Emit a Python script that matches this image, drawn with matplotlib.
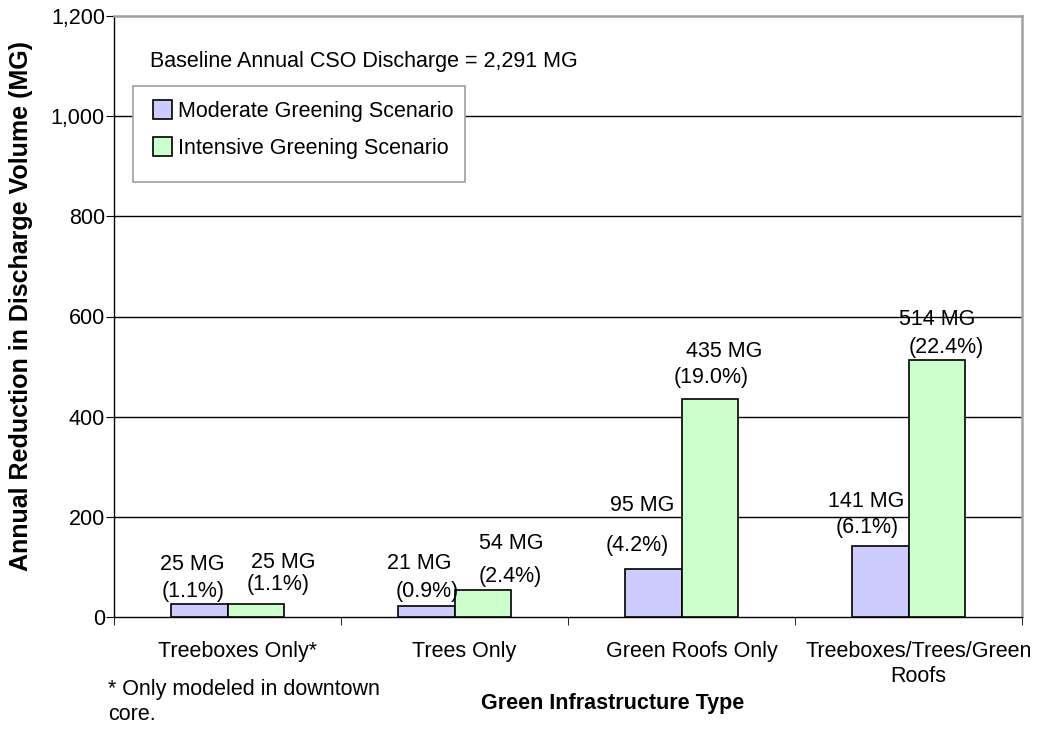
import matplotlib
matplotlib.use("Agg")
import matplotlib.pyplot as plt
import matplotlib.transforms as mtransforms
from matplotlib.patches import Rectangle, Patch
import numpy as np

plt.rcParams['font.family'] = ['Liberation Sans', 'DejaVu Sans']

categories = ["Treeboxes Only*", "Trees Only", "Green Roofs Only", "Treeboxes/Trees/Green\nRoofs"]
moderate = [25, 21, 95, 141]
intensive = [25, 54, 435, 514]
moderate_pct = ["1.1%", "0.9%", "4.2%", "6.1%"]
intensive_pct = ["1.1%", "2.4%", "19.0%", "22.4%"]
series_names = ["Moderate Greening Scenario", "Intensive Greening Scenario"]
baseline_text = "Baseline Annual CSO Discharge = 2,291 MG"
yticks = [0, 200, 400, 600, 800, 1000, 1200]

# label offsets in pixels (dx, dy) relative to bar top-center: (line1, line2)
mod_offsets = [((-7, 40), (-6, 13)), ((-7, 43), (1, 15)), ((-11, 64), (-16, 24)), ((-14, 45), (-13, 19))]
int_offsets = [((27, 42), (22, 20)), ((28, 46), (27, 13)), ((14, 48), (1, 22)), ((0, 40), (9, 12))]

W, H = 1048, 729
fig = plt.figure(figsize=(W / 100, H / 100), dpi=100)
L, R, T, B = 114, 1022, 16, 617
ax = fig.add_axes([L / W, 1 - B / H, (R - L) / W, (B - T) / H])

FS = 15.5
col_mod = "#CCCCFF"
col_int = "#CCFFCC"
x = np.arange(len(categories))
bw = 0.25
ax.bar(x - bw / 2, moderate, bw, color=col_mod, edgecolor="black", linewidth=1.2, zorder=3)
ax.bar(x + bw / 2, intensive, bw, color=col_int, edgecolor="black", linewidth=1.2, zorder=3)

ax.set_xlim(-0.5, 3.5)
ax.set_ylim(0, 1200)
ax.set_yticks(yticks)
ax.set_yticklabels([f"{v:,}" for v in yticks], fontsize=FS)
for v in yticks[1:-1]:
    ax.axhline(v, color="black", lw=1.0, zorder=1)

ax.set_xticks(x)
ax.set_xticklabels(categories, fontsize=FS, linespacing=1.25)
ax.set_xticks(np.arange(-0.5, 3.6, 1.0), minor=True)
ax.tick_params(axis="x", which="major", length=0, pad=17)
ax.tick_params(axis="x", which="minor", length=6, direction="out", color="black")
ax.tick_params(axis="y", length=6, direction="out", pad=0.5, color="black")

offset = mtransforms.ScaledTranslation(10 / 100, 0, fig.dpi_scale_trans)
for lab in ax.get_xticklabels():
    lab.set_transform(lab.get_transform() + offset)

for s in ["left", "bottom"]:
    ax.spines[s].set_color("black")
    ax.spines[s].set_linewidth(1.0)
for s in ["top", "right"]:
    ax.spines[s].set_color("#a0a0a0")
    ax.spines[s].set_linewidth(1.8)

def px2pt(p):
    return p * 0.72

for i in range(len(categories)):
    for xv, val, pct, offs in [(x[i] - bw / 2, moderate[i], moderate_pct[i], mod_offsets[i]),
                               (x[i] + bw / 2, intensive[i], intensive_pct[i], int_offsets[i])]:
        (dx1, dy1), (dx2, dy2) = offs
        ax.annotate(f"{val} MG", xy=(xv, val), xytext=(px2pt(dx1), px2pt(dy1)),
                    textcoords="offset points", ha="center", va="center", fontsize=FS, zorder=5)
        ax.annotate(f"({pct})", xy=(xv, val), xytext=(px2pt(dx2), px2pt(dy2)),
                    textcoords="offset points", ha="center", va="center", fontsize=FS, zorder=5)

ax.set_ylabel("Annual Reduction in Discharge Volume (MG)", fontsize=18, fontweight="bold")
ax.yaxis.set_label_coords(33 / W, 1 - 306 / H, transform=fig.transFigure)

fig.text(613 / W, 1 - 703 / H, "Green Infrastructure Type", fontsize=FS, fontweight="bold",
         ha="center", va="center")
fig.text(108 / W, 1 - 690 / H, "* Only modeled in downtown", fontsize=FS, ha="left", va="center")
fig.text(108 / W, 1 - 715 / H, "core.", fontsize=FS, ha="left", va="center")
fig.text(150 / W, 1 - 61 / H, baseline_text, fontsize=FS, ha="left", va="center")

# legend frame
fig.patches.append(Rectangle((133 / W, 1 - 182 / H), (465 - 133) / W, (182 - 86) / H,
                             transform=fig.transFigure, facecolor="white", edgecolor="#a0a0a0",
                             linewidth=1.2, zorder=4))
handles = [Patch(facecolor=col_mod, edgecolor="black", linewidth=1.2),
           Patch(facecolor=col_int, edgecolor="black", linewidth=1.2)]
leg = fig.legend(handles, series_names, loc="upper left",
                 bbox_to_anchor=(153 / W, 1 - 100 / H), frameon=False, fontsize=FS,
                 handlelength=0.9, handleheight=0.95, handletextpad=0.25,
                 labelspacing=0.72, borderpad=0, borderaxespad=0)
leg.set_zorder(6)

fig.savefig("out.png", dpi=100)
